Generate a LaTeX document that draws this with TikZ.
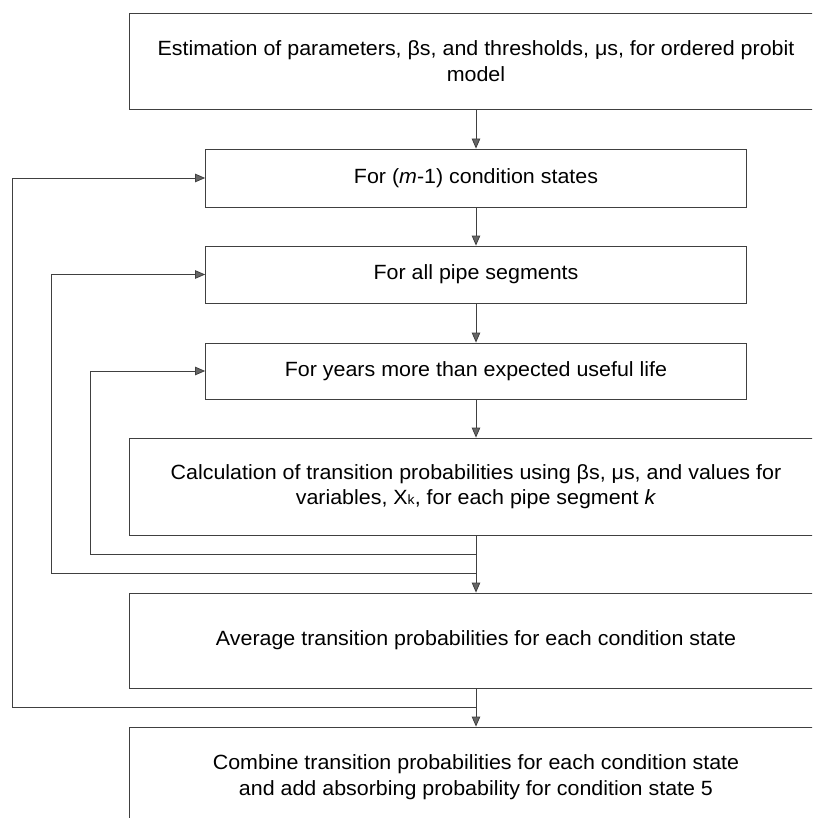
\documentclass[tikz,border=0pt]{standalone}
\usepackage{fontspec}
\setmainfont[FakeStretch=1.04]{Liberation Sans}
\usetikzlibrary{arrows.meta}
\begin{document}
\begin{tikzpicture}[x=1pt,y=-1pt,
  box/.style={draw=black!75, line width=0.8pt, align=center, inner sep=0pt,
    font=\fontsize{20.6}{25.5}\selectfont},
  wide/.style={box, minimum width=694pt},
  narrow/.style={box, minimum width=541pt},
  flow/.style={draw=black!75, line width=0.8pt,
    -{Triangle[length=10pt,width=8.5pt,fill=black!60]}},
  ]
\useasboundingbox (0,0) rectangle (812,818);
\fill[white] (0,0) rectangle (812,818);
\clip (0,0) rectangle (812,818);

% process boxes
\node[wide, minimum height=96pt] (est) at (476,61)
  {Estimation of parameters, βs, and thresholds, μs, for ordered probit\\model};
\node[narrow, minimum height=58pt] (cond) at (476,178)
  {For (\textit{m}-1) condition states};
\node[narrow, minimum height=57pt] (pipe) at (476,274.5)
  {For all pipe segments};
\node[narrow, minimum height=56pt] (yrs) at (476,371)
  {For years more than expected useful life};
\node[wide, minimum height=97pt] (calc) at (476,486.5)
  {Calculation of transition probabilities using βs, μs, and values for\\
   variables, X{\fontsize{13.5}{13.5}\selectfont k}, for each pipe segment \textit{k}};
\node[wide, minimum height=95pt] (avg) at (476,640.5)
  {Average transition probabilities for each condition state};
\node[wide, minimum height=100pt] (comb) at (476,777)
  {Combine transition probabilities for each condition state\\
   and add absorbing probability for condition state 5};

% main sequence
\draw[flow] (est.south) -- (cond.north);
\draw[flow] (cond.south) -- (pipe.north);
\draw[flow] (pipe.south) -- (yrs.north);
\draw[flow] (yrs.south) -- (calc.north);
\draw[flow] (calc.south) -- (avg.north);
\draw[flow] (avg.south) -- (comb.north);

% loop returns
\coordinate (j1) at (476,554);
\coordinate (j2) at (476,573);
\coordinate (j3) at (476,707);
\draw[flow] (j1) -| ([xshift=-114.5pt]yrs.west) -- (yrs.west);
\draw[flow] (j2) -| ([xshift=-153.5pt]pipe.west) -- (pipe.west);
\draw[flow] (j3) -| ([xshift=-192.5pt]cond.west) -- (cond.west);
\end{tikzpicture}
\end{document}
